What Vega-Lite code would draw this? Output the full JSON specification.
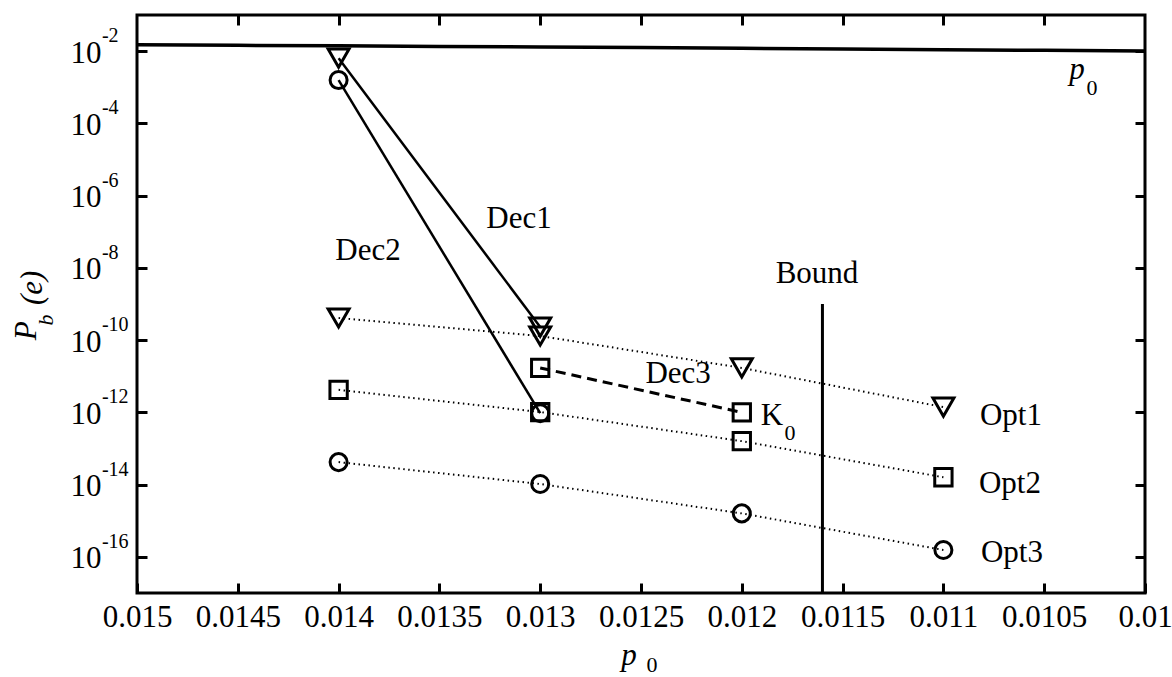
{
  "$schema": "https://vega.github.io/schema/vega-lite/v6.json",
  "width": 1008,
  "height": 578,
  "autosize": "none",
  "padding": {"left": 137, "top": 15, "right": 27, "bottom": 84},
  "background": "white",
  "config": {
    "view": {"stroke": "black", "strokeWidth": 3},
    "font": "Liberation Serif",
    "axis": {"labelFont": "Liberation Serif", "titleFont": "Liberation Serif"},
    "text": {"font": "Liberation Serif", "color": "black"}
  },
  "datasets": {
    "series": [
      {"series": "p0", "p0": 0.015, "pb": 0.015},
      {"series": "p0", "p0": 0.0145, "pb": 0.0145},
      {"series": "p0", "p0": 0.014, "pb": 0.014},
      {"series": "p0", "p0": 0.0135, "pb": 0.0135},
      {"series": "p0", "p0": 0.013, "pb": 0.013},
      {"series": "p0", "p0": 0.0125, "pb": 0.0125},
      {"series": "p0", "p0": 0.012, "pb": 0.012},
      {"series": "p0", "p0": 0.0115, "pb": 0.0115},
      {"series": "p0", "p0": 0.011, "pb": 0.011},
      {"series": "p0", "p0": 0.0105, "pb": 0.0105},
      {"series": "p0", "p0": 0.01, "pb": 0.01},
      {"series": "Opt1", "p0": 0.014, "pb": 4.1e-10},
      {"series": "Opt1", "p0": 0.013, "pb": 1.3e-10},
      {"series": "Opt1", "p0": 0.012, "pb": 1.7e-11},
      {"series": "Opt1", "p0": 0.011, "pb": 1.4e-12},
      {"series": "Opt2", "p0": 0.014, "pb": 4.2e-12},
      {"series": "Opt2", "p0": 0.013, "pb": 1.02e-12},
      {"series": "Opt2", "p0": 0.012, "pb": 1.6e-13},
      {"series": "Opt2", "p0": 0.011, "pb": 1.6e-14},
      {"series": "Opt3", "p0": 0.014, "pb": 4.2e-14},
      {"series": "Opt3", "p0": 0.013, "pb": 1.04e-14},
      {"series": "Opt3", "p0": 0.012, "pb": 1.6e-15},
      {"series": "Opt3", "p0": 0.011, "pb": 1.55e-16},
      {"series": "Dec1", "p0": 0.014, "pb": 6.4e-3},
      {"series": "Dec1", "p0": 0.013, "pb": 2.3e-10},
      {"series": "Dec2", "p0": 0.014, "pb": 1.58e-3},
      {"series": "Dec2", "p0": 0.013, "pb": 9.5e-13},
      {"series": "Dec3", "p0": 0.013, "pb": 1.7e-11},
      {"series": "Dec3", "p0": 0.012, "pb": 1.0e-12},
      {"series": "Bound", "p0": 0.0116, "pb": 1e-9},
      {"series": "Bound", "p0": 0.0116, "pb": 1e-17}
    ],
    "labels": [
      {"text": "Dec1", "p0": 0.013105, "pb": 1.27e-7},
      {"text": "Dec2", "p0": 0.013854, "pb": 1.66e-8},
      {"text": "Dec3", "p0": 0.012316, "pb": 6.5e-12},
      {"text": "Bound", "p0": 0.011627, "pb": 3.8e-9},
      {"text": "K", "p0": 0.01185, "pb": 4.5e-13},
      {"text": "Opt1", "p0": 0.010665, "pb": 4.5e-13},
      {"text": "Opt2", "p0": 0.01067, "pb": 5.9e-15},
      {"text": "Opt3", "p0": 0.01066, "pb": 7.2e-17}
    ],
    "subs": [
      {"text": "0", "p0": 0.011761, "pb": 1.72e-13},
      {"text": "0", "p0": 0.010263, "pb": 6.1e-4},
      {"text": "0", "p0": 0.012445, "pb": 6.5e-20}
    ],
    "italics": [
      {"text": "p", "p0": 0.010337, "pb": 1.69e-3},
      {"text": "p", "p0": 0.01256, "pb": 1.0e-19}
    ],
    "exps": [
      {"text": "-16", "p0": 0.015174, "pb": 1e-16},
      {"text": "-14", "p0": 0.015174, "pb": 1e-14},
      {"text": "-12", "p0": 0.015174, "pb": 1e-12},
      {"text": "-10", "p0": 0.015174, "pb": 1e-10},
      {"text": "-8", "p0": 0.015174, "pb": 1e-8},
      {"text": "-6", "p0": 0.015174, "pb": 1e-6},
      {"text": "-4", "p0": 0.015174, "pb": 1e-4},
      {"text": "-2", "p0": 0.015174, "pb": 1e-2}
    ],
    "ytitle": [
      {"text": "P", "p0": 0.015501, "pb": 1.8e-10},
      {"text": "(e)", "p0": 0.015471, "pb": 2.8e-9}
    ],
    "ytitlesub": [
      {"text": "b", "p0": 0.015417, "pb": 3.6e-10}
    ]
  },
  "layer": [
    {
      "data": {"name": "series"},
      "transform": [{"filter": "datum.series === 'p0'"}],
      "mark": {"type": "line", "color": "black", "strokeWidth": 3.5, "clip": true},
      "encoding": {
        "x": {"field": "p0", "type": "quantitative", "scale": {"domain": [0.01, 0.015], "reverse": true, "nice": false, "zero": false},
          "axis": {"orient": "bottom", "values": [0.015, 0.0145, 0.014, 0.0135, 0.013, 0.0125, 0.012, 0.0115, 0.011, 0.0105, 0.01], "format": "~g",
            "domain": false, "grid": false, "tickSize": -10, "tickWidth": 3, "tickColor": "black",
            "labelFont": "Liberation Serif", "labelFontSize": 31, "labelColor": "black", "labelPadding": 43,
            "labelBaseline": "alphabetic", "labelFlush": false, "labelOverlap": false, "title": null}},
        "y": {"field": "pb", "type": "quantitative", "scale": {"type": "log", "domain": [1e-17, 0.1], "nice": false},
          "axis": {"orient": "left", "values": [1e-16, 1e-14, 1e-12, 1e-10, 1e-8, 1e-6, 1e-4, 1e-2],
            "labelExpr": "'10'",
            "domain": false, "grid": false, "tickSize": -10, "tickWidth": 3, "tickColor": "black",
            "labelFont": "Liberation Serif", "labelFontSize": 31, "labelColor": "black", "labelPadding": 46,
            "labelBaseline": "alphabetic", "labelOffset": 11, "labelFlush": false, "labelOverlap": false, "title": null}}
      }
    },
    {
      "data": {"name": "series"},
      "transform": [{"filter": "datum.series === 'Dec1' || datum.series === 'Dec2'"}],
      "mark": {"type": "line", "color": "black", "strokeWidth": 2.5},
      "encoding": {
        "x": {"field": "p0", "type": "quantitative", "scale": {"domain": [0.01, 0.015], "reverse": true, "nice": false, "zero": false},
          "axis": {"orient": "top", "values": [0.0145, 0.014, 0.0135, 0.013, 0.0125, 0.012, 0.0115, 0.011, 0.0105],
            "domain": false, "grid": false, "labels": false, "tickSize": -10, "tickWidth": 3, "tickColor": "black", "title": null}},
        "y": {"field": "pb", "type": "quantitative", "scale": {"type": "log", "domain": [1e-17, 0.1], "nice": false},
          "axis": {"orient": "right", "values": [1e-16, 1e-14, 1e-12, 1e-10, 1e-8, 1e-6, 1e-4, 1e-2],
            "domain": false, "grid": false, "labels": false, "tickSize": -10, "tickWidth": 3, "tickColor": "black", "title": null}},
        "detail": {"field": "series"}
      }
    },
    {
      "data": {"name": "series"},
      "transform": [{"filter": "datum.series === 'Dec3'"}],
      "mark": {"type": "line", "color": "black", "strokeWidth": 3, "strokeDash": [10, 6]},
      "encoding": {
        "x": {"field": "p0", "type": "quantitative", "scale": {"domain": [0.01, 0.015], "reverse": true, "nice": false, "zero": false}, "axis": null},
        "y": {"field": "pb", "type": "quantitative", "scale": {"type": "log", "domain": [1e-17, 0.1], "nice": false}, "axis": null}
      }
    },
    {
      "data": {"name": "series"},
      "transform": [{"filter": "datum.series === 'Opt1' || datum.series === 'Opt2' || datum.series === 'Opt3'"}],
      "mark": {"type": "line", "color": "black", "strokeWidth": 2, "strokeDash": [1.5, 3.5]},
      "encoding": {
        "x": {"field": "p0", "type": "quantitative", "scale": {"domain": [0.01, 0.015], "reverse": true, "nice": false, "zero": false}, "axis": null},
        "y": {"field": "pb", "type": "quantitative", "scale": {"type": "log", "domain": [1e-17, 0.1], "nice": false}, "axis": null},
        "detail": {"field": "series"}
      }
    },
    {
      "data": {"name": "series"},
      "transform": [{"filter": "datum.series === 'Bound'"}],
      "mark": {"type": "line", "color": "black", "strokeWidth": 3},
      "encoding": {
        "x": {"field": "p0", "type": "quantitative", "scale": {"domain": [0.01, 0.015], "reverse": true, "nice": false, "zero": false}, "axis": null},
        "y": {"field": "pb", "type": "quantitative", "scale": {"type": "log", "domain": [1e-17, 0.1], "nice": false}, "axis": null}
      }
    },
    {
      "data": {"name": "series"},
      "transform": [{"filter": "datum.series === 'Opt1' || datum.series === 'Dec1'"}],
      "mark": {"type": "point", "shape": "triangle-down", "size": 440, "filled": false, "color": "black", "strokeWidth": 3, "opacity": 1},
      "encoding": {
        "x": {"field": "p0", "type": "quantitative", "scale": {"domain": [0.01, 0.015], "reverse": true, "nice": false, "zero": false}, "axis": null},
        "y": {"field": "pb", "type": "quantitative", "scale": {"type": "log", "domain": [1e-17, 0.1], "nice": false}, "axis": null}
      }
    },
    {
      "data": {"name": "series"},
      "transform": [{"filter": "datum.series === 'Opt2' || datum.series === 'Dec3'"}],
      "mark": {"type": "point", "shape": "square", "size": 300, "filled": false, "color": "black", "strokeWidth": 3, "opacity": 1},
      "encoding": {
        "x": {"field": "p0", "type": "quantitative", "scale": {"domain": [0.01, 0.015], "reverse": true, "nice": false, "zero": false}, "axis": null},
        "y": {"field": "pb", "type": "quantitative", "scale": {"type": "log", "domain": [1e-17, 0.1], "nice": false}, "axis": null}
      }
    },
    {
      "data": {"name": "series"},
      "transform": [{"filter": "datum.series === 'Opt3' || datum.series === 'Dec2'"}],
      "mark": {"type": "point", "shape": "circle", "size": 290, "filled": false, "color": "black", "strokeWidth": 3, "opacity": 1},
      "encoding": {
        "x": {"field": "p0", "type": "quantitative", "scale": {"domain": [0.01, 0.015], "reverse": true, "nice": false, "zero": false}, "axis": null},
        "y": {"field": "pb", "type": "quantitative", "scale": {"type": "log", "domain": [1e-17, 0.1], "nice": false}, "axis": null}
      }
    },
    {
      "data": {"name": "labels"},
      "mark": {"type": "text", "fontSize": 31, "align": "center", "baseline": "alphabetic", "font": "Liberation Serif", "color": "black"},
      "encoding": {
        "x": {"field": "p0", "type": "quantitative", "scale": {"domain": [0.01, 0.015], "reverse": true, "nice": false, "zero": false}, "axis": null},
        "y": {"field": "pb", "type": "quantitative", "scale": {"type": "log", "domain": [1e-17, 0.1], "nice": false}, "axis": null},
        "text": {"field": "text"}
      }
    },
    {
      "data": {"name": "exps"},
      "mark": {"type": "text", "fontSize": 20, "align": "left", "baseline": "alphabetic", "dy": -9, "font": "Liberation Serif", "color": "black"},
      "encoding": {
        "x": {"field": "p0", "type": "quantitative", "scale": {"domain": [0.01, 0.015], "reverse": true, "nice": false, "zero": false}, "axis": null},
        "y": {"field": "pb", "type": "quantitative", "scale": {"type": "log", "domain": [1e-17, 0.1], "nice": false}, "axis": null},
        "text": {"field": "text"}
      }
    },
    {
      "data": {"name": "subs"},
      "mark": {"type": "text", "fontSize": 22, "align": "center", "baseline": "alphabetic", "font": "Liberation Serif", "color": "black"},
      "encoding": {
        "x": {"field": "p0", "type": "quantitative", "scale": {"domain": [0.01, 0.015], "reverse": true, "nice": false, "zero": false}, "axis": null},
        "y": {"field": "pb", "type": "quantitative", "scale": {"type": "log", "domain": [1e-17, 0.1], "nice": false}, "axis": null},
        "text": {"field": "text"}
      }
    },
    {
      "data": {"name": "italics"},
      "mark": {"type": "text", "fontSize": 31, "fontStyle": "italic", "align": "center", "baseline": "alphabetic", "font": "Liberation Serif", "color": "black"},
      "encoding": {
        "x": {"field": "p0", "type": "quantitative", "scale": {"domain": [0.01, 0.015], "reverse": true, "nice": false, "zero": false}, "axis": null},
        "y": {"field": "pb", "type": "quantitative", "scale": {"type": "log", "domain": [1e-17, 0.1], "nice": false}, "axis": null},
        "text": {"field": "text"}
      }
    },
    {
      "data": {"name": "ytitle"},
      "mark": {"type": "text", "fontSize": 31, "fontStyle": "italic", "angle": 270, "align": "center", "baseline": "alphabetic", "font": "Liberation Serif", "color": "black"},
      "encoding": {
        "x": {"field": "p0", "type": "quantitative", "scale": {"domain": [0.01, 0.015], "reverse": true, "nice": false, "zero": false}, "axis": null},
        "y": {"field": "pb", "type": "quantitative", "scale": {"type": "log", "domain": [1e-17, 0.1], "nice": false}, "axis": null},
        "text": {"field": "text"}
      }
    },
    {
      "data": {"name": "ytitlesub"},
      "mark": {"type": "text", "fontSize": 22, "fontStyle": "italic", "angle": 270, "align": "center", "baseline": "alphabetic", "font": "Liberation Serif", "color": "black"},
      "encoding": {
        "x": {"field": "p0", "type": "quantitative", "scale": {"domain": [0.01, 0.015], "reverse": true, "nice": false, "zero": false}, "axis": null},
        "y": {"field": "pb", "type": "quantitative", "scale": {"type": "log", "domain": [1e-17, 0.1], "nice": false}, "axis": null},
        "text": {"field": "text"}
      }
    }
  ],
  "resolve": {"axis": {"x": "independent", "y": "independent"}}
}
